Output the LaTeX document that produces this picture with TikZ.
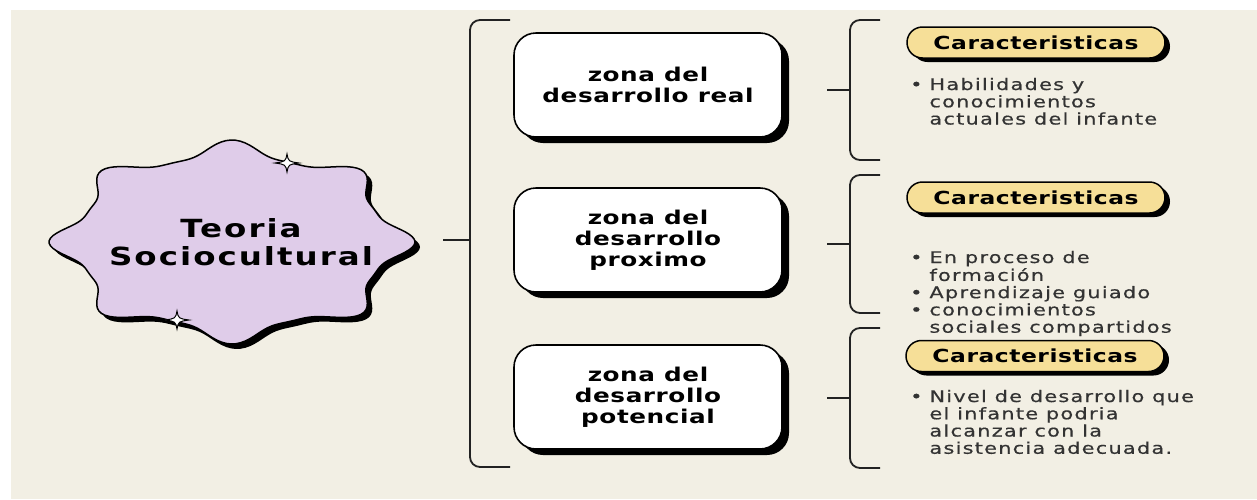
\documentclass[tikz,border=0pt]{standalone}
\usepackage{fontspec}
\setmainfont{DejaVu Sans}
\newfontfamily\titlefont[FakeStretch=1.3,LetterSpace=8]{DejaVu Sans}
\newfontfamily\zonefont[FakeStretch=1.3,LetterSpace=3]{DejaVu Sans}
\newfontfamily\pillfont[FakeStretch=1.3,LetterSpace=3]{DejaVu Sans}
\newfontfamily\listfont[FakeStretch=1.3,LetterSpace=8,FakeBold=0.6]{DejaVu Sans}
\usetikzlibrary{positioning,shapes.misc,shadows}

\definecolor{papel}{HTML}{F2EFE4}
\definecolor{lila}{HTML}{DFCCE9}
\definecolor{oro}{HTML}{F6DF98}
\definecolor{tinta}{HTML}{222222}
\definecolor{gris}{HTML}{333333}

\tikzset{
  chispa/.pic={\draw[fill=white,line width=1pt] (0,-9) .. controls (1.5,-1.5) .. (12,0) .. controls (1.5,1.5) .. (0,9) .. controls (-1.5,1.5) .. (-12,0) .. controls (-1.5,-1.5) .. (0,-9) -- cycle;}
}

\begin{document}
\begin{tikzpicture}
		[x=1pt,y=-1pt,
		zona/.style={draw=black,line width=1.6pt,fill=white,rounded corners=22pt,
			minimum width=268pt,minimum height=104pt,align=center,
			font=\zonefont\bfseries\fontsize{19}{21}\selectfont,
			drop shadow={shadow xshift=7pt,shadow yshift=-6pt,opacity=1,fill=black}},
		rasgo/.style={rounded rectangle,draw=black,line width=1.5pt,fill=oro,
			minimum width=258pt,minimum height=31pt,inner sep=0pt,
			font=\pillfont\bfseries\fontsize{18}{20}\selectfont,
			drop shadow={shadow xshift=5pt,shadow yshift=-4pt,opacity=1,fill=black}},
		lista/.style={anchor=base west,inner sep=0pt,text=gris,
			font=\listfont\fontsize{16}{17}\selectfont},
		llave/.style={draw=tinta,line width=1.8pt,rounded corners=10pt},
		declare function={wv(\t)=cos(4*\t)*cos(4*\t);}]
		% background
		\useasboundingbox (0,0) rectangle (1257,499);
		\fill[white] (0,0) rectangle (1257,499);
		\fill[papel] (11,10) rectangle (1257,499);

		% the wavy star with its shadow
		\fill[black,shift={(5,5)}] plot[domain=0:360,samples=240,variable=\t]
			({232+183*(0.84+0.16*wv(\t)*wv(\t))*cos(\t)},{242+102*(0.84+0.16*wv(\t)*wv(\t))*sin(\t)}) -- cycle;
		\draw[fill=lila,line width=1.5pt] plot[domain=0:360,samples=240,variable=\t]
			({232+183*(0.84+0.16*wv(\t)*wv(\t))*cos(\t)},{242+102*(0.84+0.16*wv(\t)*wv(\t))*sin(\t)}) -- cycle;
		\pic at (287,163) {chispa};
		\pic at (177,320) {chispa};
		\node[align=center,font=\titlefont\bfseries\fontsize{25}{28}\selectfont] (teoria) at (241,242) {Teoria\\Sociocultural};

		% big bracket
		\coordinate (starR) at (443,240);
		\coordinate (bigmid) at (470,240);
		\draw[llave] (510,20) -- (470,20) -- (470,467) -- (510,467);
		\draw[llave] (starR) -- (bigmid);

		% the three zones
		\node[zona] (real) at (648,85) {zona del\\desarrollo real};
		\node[zona] (proximo) at (648,240) {zona del\\desarrollo\\proximo};
		\node[zona] (potencial) at (648,397) {zona del\\desarrollo\\potencial};

		% small brackets
		\foreach \top/\bot/\n in {20/160/1,175/313/2,328/468/3}{
			\draw[llave] (880,\top) -- (850,\top) -- (850,\bot) -- (880,\bot);
			\coordinate (m\n) at (850,{(\top+\bot)/2});
			\coordinate (s\n) at (827,{(\top+\bot)/2});
			\draw[llave] (s\n) -- (m\n);
		}

		% characteristics
		\node[rasgo] (c1) at (1036,42.5) {Caracteristicas};
		\node[rasgo] (c2) at (1036,197.5) {Caracteristicas};
		\node[rasgo] (c3) at (1035,356) {Caracteristicas};

		\node[lista] (l1) at (910,90) {\begin{tabular}[t]{@{}l@{\hspace{7pt}}l@{}}
			• & Habilidades y\\ & conocimientos\\ & actuales del infante\end{tabular}};
		\node[lista] (l2) at (910,263) {\begin{tabular}[t]{@{}l@{\hspace{7pt}}l@{}}
			• & En proceso de\\ & formación\\ • & Aprendizaje guiado\\
			• & conocimientos\\ & sociales compartidos\end{tabular}};
		\node[lista] (l3) at (910,402) {\begin{tabular}[t]{@{}l@{\hspace{7pt}}l@{}}
			• & Nivel de desarrollo que\\ & el infante podria\\ & alcanzar con la\\
			& asistencia adecuada.\end{tabular}};
	\end{tikzpicture}
\end{document}
